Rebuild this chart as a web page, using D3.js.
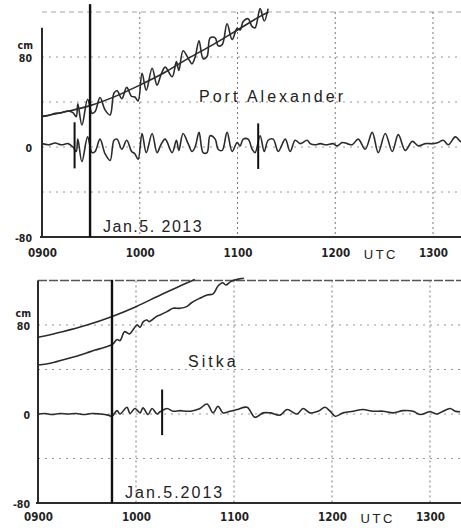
<!DOCTYPE html>
<html><head><meta charset="utf-8">
<script src="https://cdn.jsdelivr.net/npm/d3@7"></script>
<style>body{margin:0;background:#fff}svg{display:block}</style>
</head><body><svg id="c" width="461" height="528"></svg>
<script>
// minutes after 0900 UTC, values in cm
const timeTicks=[0,60,120,180,240];
const timeLabels=["0900","1000","1100","1200","1300"];
const cmTicks=[-80,0,80];
const cmLabels=["-80","0","80"];
const gridLevels=[-40,0,40,80,120];

// Port Alexander
const paPredicted=[[0,27],[15,31.5],[30,37],[45,45],[60,55],[75,66],[90,79],[105,91],[120,104],[135,117],[139,120]];
const paObserved=[[0,27.5],[4,28],[8,30],[12,30.5],[16,32],[19,30.5],[21,27],[22,38.5],[24.5,19.5],[28,42.5],[30.7,30],[32.6,31.5],[35.6,44],[38.7,33],[41.8,28.5],[44.2,48],[46.1,50],[49,43],[52,53],[55,45],[57,44.5],[59,41],[61.4,65.5],[64,50.5],[67.6,70],[70.6,55],[73,64],[75.6,71],[79.9,62.5],[82.5,76],[84,68],[86.6,85.5],[89.7,79],[92.1,74],[94,80],[96.4,94.5],[98.9,78.5],[101.3,80.5],[103.2,97],[106.3,97],[108.1,90],[110.6,91],[113.6,109.5],[116.7,95.5],[119.8,105.5],[121.6,104],[123.5,111.5],[126.5,114],[129,107],[130.8,106],[133.9,123],[136.4,112],[138.8,123]];
const paResidual=[[0,3],[4,2],[8,3.5],[12,2],[16,3],[19,0],[21,-4],[22,7],[24.5,-13],[28,9],[30.7,-5],[32.6,-4],[35.6,7],[38.7,-6],[41.8,-12],[44.2,6],[46.1,7],[49,-2],[52,6],[55,-4],[57,-6],[59,-11],[61.4,12],[64,-5],[67.6,12],[70.6,-5],[73,2],[75.6,7],[79.9,-5],[82.5,6],[84,-3],[86.6,12],[89.7,3],[92.1,-4],[94,0],[96.4,13],[98.9,-5],[101.3,-5],[103.2,10],[106.3,7],[108.1,-2],[110.6,-3],[113.6,13],[116.7,-4],[119.8,4],[121.6,1],[123.5,7],[126.5,7],[129,-2],[130.8,-5],[133.9,10],[136.4,-4],[138.8,6],[141.9,7],[145,-4],[149.3,7],[152.3,-4],[155.4,6],[158.5,3],[162.8,6],[164.6,3],[167.7,2],[170.8,3],[174.4,2],[178.7,3],[181.2,1],[184.3,4],[187.3,3],[190.4,2],[194.1,7],[198.4,-2],[202.7,13],[206.4,-5],[210.7,12],[215,-4],[218.7,11],[223,-3],[227.3,5],[231,1],[235.3,3],[240.2,3],[243.2,4],[246.3,6],[249.4,2],[253.7,9],[256.8,5],[258,4]];
const paSpikes=[[20,22,-19],[132.7,21,-19.5]];
const paMarkTime=29.5;

// Sitka
const skPredicted=[[0,69],[15,74],[30,80],[45,87.5],[60,96.5],[75,107],[90,117],[96,121]];
const skObserved=[[0,44],[5,45],[10,46.5],[15,48.5],[20,50.5],[25,52.5],[30,55],[35,57.5],[40,59.5],[44,61.5],[46,63],[48.4,67],[50.2,66],[53,74],[56,72],[60.6,80],[62.5,78],[64.5,83],[66.6,84.5],[68,83],[72.9,88],[74.7,89],[79,92],[82.7,95],[87,95],[91,96.5],[94,100],[99,104],[103.5,107],[107.2,108],[110.2,115],[113,118],[115,116],[118,119],[122,121],[126,122]];
const skResidual=[[0,0],[4.3,0.5],[8.6,-0.5],[13.5,0.5],[18.4,0],[23.3,0.5],[28.2,-0.5],[33,0.5],[38,0],[42.9,-1],[45.3,-2],[48.4,3],[50.2,0],[54.5,6],[56.3,0.5],[59.4,5],[62.5,1],[64.3,5.5],[67.4,-0.5],[69.8,5],[72.9,0],[74.7,2],[79,5],[82.7,2.5],[87,3],[91.2,2.5],[94.9,3],[99.2,5],[103.5,9],[107.2,1],[110.2,7],[113.3,1],[117.6,2.5],[121.9,4],[128,6],[132.9,-3],[137.8,1],[142.1,1],[148.2,-1],[152.5,4],[158.6,0],[162.3,5],[166.6,1],[171.5,2.5],[175.7,6],[178.8,2.5],[181.9,-2],[186.8,1],[192.9,2.5],[199,4],[205.1,2.5],[211.3,2.5],[217.4,1],[223.5,3],[229.6,2.5],[233.9,-0.5],[240,2],[244.3,0],[248,2.5],[252.3,5],[255.4,2.5],[258.4,2]];
const skSpikes=[[76,22,-19]];
const skMarkTime=45.3;

const svg=d3.select("#c");
const ink="#2b2b2b";
const labFont="'DejaVu Sans Condensed','DejaVu Sans',sans-serif";
const titleFont="'Liberation Sans',Arial,sans-serif";

function panel(cfg){
  const x=d3.scaleLinear().domain([0,240]).range([cfg.x0,cfg.x1]);
  const y=d3.scaleLinear().domain([-80,80]).range([cfg.y0,cfg.y1]);
  const xEnd=461;
  const tMax=x.invert(xEnd);
  const g=svg.append("g");
  // horizontal grid
  g.selectAll(".hg").data(gridLevels).join("line")
    .attr("x1",x(0)).attr("x2",xEnd).attr("y1",d=>y(d)).attr("y2",d=>y(d))
    .attr("stroke",d=>d===120?cfg.topGrid:"#8a8a8a").attr("stroke-width",d=>d===120?cfg.topGridW:0.9)
    .attr("stroke-dasharray",d=>d===120?cfg.topDash:"2,5");
  // vertical grid
  g.selectAll(".vg").data(timeTicks.slice(1)).join("line")
    .attr("x1",d=>x(d)).attr("x2",d=>x(d)).attr("y1",y(120)).attr("y2",y(-80))
    .attr("stroke","#7a7a7a").attr("stroke-width",1).attr("stroke-dasharray","2,3");
  // x axis
  const xa=d3.axisBottom(x).tickValues(timeTicks).tickFormat((d,i)=>timeLabels[i]).tickSize(0).tickPadding(cfg.tickPad);
  const ax=g.append("g").attr("transform",`translate(0,${y(-80)})`).call(xa);
  ax.select(".domain").remove();
  ax.selectAll("text").attr("font-family",labFont).attr("font-weight","bold").attr("font-size",11.5).attr("fill","#222");
  g.append("line").attr("x1",x(0)-2).attr("x2",xEnd).attr("y1",y(-80)).attr("y2",y(-80)).attr("stroke",ink).attr("stroke-width",2.2);
  g.append("text").attr("x",x(208)).attr("y",y(-80)+cfg.tickPad+10).attr("text-anchor","middle")
    .attr("font-family",titleFont).attr("font-size",13).attr("letter-spacing",2.5).attr("fill","#222").text("UTC");
  // y axis
  const ya=d3.axisLeft(y).tickValues(cmTicks).tickFormat((d,i)=>cmLabels[i]).tickSize(0).tickPadding(cfg.yPad);
  const ay=g.append("g").attr("transform",`translate(${x(0)},0)`).call(ya);
  ay.select(".domain").remove();
  ay.selectAll("text").attr("font-family",labFont).attr("font-weight","bold").attr("font-size",10.5).attr("fill","#222").attr("dy","0.45em");
  g.append("text").attr("x",x(0)-cfg.yPad+1).attr("y",y(80)-8).attr("text-anchor","end")
    .attr("font-family",labFont).attr("font-weight","bold").attr("font-size",10.5).attr("fill","#222").text("cm");
  g.append("line").attr("x1",x(0)).attr("x2",x(0)).attr("y1",y(cfg.axisTop)).attr("y2",y(-80)).attr("stroke",ink).attr("stroke-width",2);
  // curves
  const wave=d3.line().x(d=>x(d[0])).y(d=>y(d[1])).curve(d3.curveCatmullRom.alpha(0.5));
  const smooth=d3.line().x(d=>x(d[0])).y(d=>y(d[1])).curve(d3.curveMonotoneX);
  g.append("path").attr("d",smooth(cfg.pred)).attr("fill","none").attr("stroke",ink).attr("stroke-width",1.6);
  g.append("path").attr("d",wave(cfg.obs)).attr("fill","none").attr("stroke",ink).attr("stroke-width",1.6).attr("stroke-linejoin","round");
  g.append("path").attr("d",wave(cfg.res.filter(d=>d[0]<=tMax+2))).attr("fill","none").attr("stroke",ink).attr("stroke-width",1.6).attr("stroke-linejoin","round");
  // spikes
  g.selectAll(".sp").data(cfg.spikes).join("line")
    .attr("x1",d=>x(d[0])).attr("x2",d=>x(d[0])).attr("y1",d=>y(d[1])).attr("y2",d=>y(d[2]))
    .attr("stroke","#111").attr("stroke-width",2);
  // time mark
  g.append("line").attr("x1",x(cfg.mark)).attr("x2",x(cfg.mark)).attr("y1",y(cfg.markTop)).attr("y2",y(-80))
    .attr("stroke","#111").attr("stroke-width",2.4);
  // labels
  g.append("text").attr("x",cfg.nameX).attr("y",cfg.nameY).attr("font-family",titleFont).attr("font-size",16)
    .attr("letter-spacing",3).attr("fill","#222").text(cfg.name);
  g.append("text").attr("x",cfg.dateX).attr("y",cfg.dateY).attr("font-family",titleFont).attr("font-size",16)
    .attr("letter-spacing",cfg.dateSp).attr("fill","#222").text(cfg.date);
}

panel({x0:42,x1:433,y0:237,y1:57,tickPad:12,yPad:10,axisTop:106,topGrid:"#9a9a9a",topGridW:0.9,topDash:"5,4",
  pred:paPredicted,obs:paObserved,res:paResidual,spikes:paSpikes,mark:paMarkTime,markTop:127,
  name:"Port Alexander",nameX:199,nameY:102,date:"Jan.5. 2013",dateX:103,dateY:232,dateSp:1.5});
panel({x0:38,x1:430,y0:503,y1:325,tickPad:10,yPad:8,axisTop:120,topGrid:"#555",topGridW:1.4,topDash:"9,2",
  pred:skPredicted,obs:skObserved,res:skResidual,spikes:skSpikes,mark:skMarkTime,markTop:120.5,
  name:"Sitka",nameX:188,nameY:367,date:"Jan.5.2013",dateX:125,dateY:498,dateSp:2});
</script></body></html>
